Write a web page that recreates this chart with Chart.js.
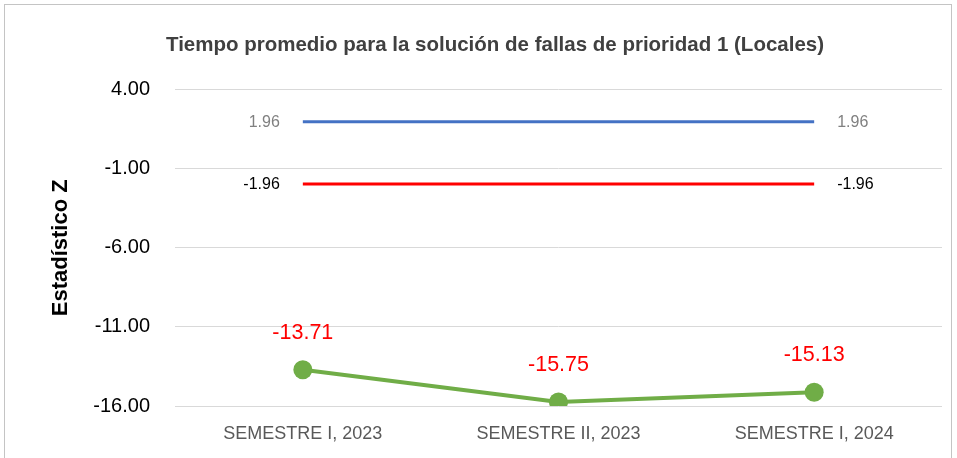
<!DOCTYPE html>
<html><head><meta charset="utf-8">
<script src="https://cdn.jsdelivr.net/npm/chart.js@4.4.1/dist/chart.umd.min.js"></script>
<style>
html,body{margin:0;padding:0;background:#fff;overflow:hidden;}
#wrap{position:relative;width:957px;height:458px;}
#frame{position:absolute;left:4px;top:4px;width:948px;height:470px;border:1.5px solid #c4c4c4;box-sizing:border-box;}
canvas{position:absolute;left:0;top:0;}
</style></head>
<body><div id="wrap"><div id="frame"></div><canvas id="c" width="957" height="458"></canvas></div>
<script>
const categories = ["SEMESTRE I, 2023", "SEMESTRE II, 2023", "SEMESTRE I, 2024"];
const upperLimit = [1.96, 1.96, 1.96];
const lowerLimit = [-1.96, -1.96, -1.96];
const zValues = [-13.71, -15.75, -15.13];
const yTicks = [4, -1, -6, -11, -16];

const FONT = "'Liberation Sans', Arial, sans-serif";

const labelPlugin = {
  id: 'labels',
  afterDatasetsDraw(chart) {
    const ctx = chart.ctx;
    ctx.save();
    [[0, '#808080'], [1, '#000000']].forEach(([di, col]) => {
      const meta = chart.getDatasetMeta(di);
      const data = chart.data.datasets[di].data;
      const pts = meta.data;
      const first = pts[0], last = pts[pts.length - 1];
      ctx.font = '16px ' + FONT;
      ctx.fillStyle = col;
      ctx.textBaseline = 'middle';
      ctx.textAlign = 'right';
      ctx.fillText(data[0].toFixed(2), first.x - 23, first.y + 1);
      ctx.textAlign = 'left';
      ctx.fillText(data[data.length - 1].toFixed(2), last.x + 23, last.y + 1);
    });
    const meta = chart.getDatasetMeta(2);
    const data = chart.data.datasets[2].data;
    ctx.font = '21.5px ' + FONT;
    ctx.fillStyle = '#FF0000';
    ctx.textAlign = 'center';
    ctx.textBaseline = 'middle';
    meta.data.forEach((p, i) => {
      ctx.fillText(data[i].toFixed(2), p.x, p.y - 37);
    });
    ctx.restore();
  }
};

new Chart(document.getElementById('c'), {
  type: 'line',
  data: {
    labels: categories,
    datasets: [
      { data: upperLimit, borderColor: '#4472C4', borderWidth: 3, pointRadius: 0, fill: false },
      { data: lowerLimit, borderColor: '#FF0000', borderWidth: 3, pointRadius: 0, fill: false },
      { data: zValues, borderColor: '#70AD47', backgroundColor: '#70AD47', borderWidth: 4,
        pointRadius: 9.5, pointBackgroundColor: '#70AD47', pointBorderColor: '#70AD47', pointBorderWidth: 0, fill: false }
    ]
  },
  options: {
    responsive: false,
    animation: false,
    devicePixelRatio: 1,
    layout: { padding: { left: 48, right: 15, top: 0, bottom: 0 } },
    plugins: {
      legend: { display: false },
      tooltip: { enabled: false },
      title: {
        display: true,
        text: 'Tiempo promedio para la solución de fallas de prioridad 1 (Locales)',
        color: '#404040',
        font: { family: FONT, size: 20.5, weight: 'bold' },
        padding: { top: 33, bottom: 32 }
      }
    },
    scales: {
      x: {
        offset: true,
        grid: { display: false, drawTicks: false },
        border: { display: false },
        ticks: { color: '#595959', font: { family: FONT, size: 18 }, padding: 17, maxRotation: 0 },
        afterFit(s) { s.height = 52; }
      },
      y: {
        min: -16, max: 4,
        afterBuildTicks(s) { s.ticks = yTicks.map(v => ({ value: v })); },
        grid: { color: '#d9d9d9', lineWidth: 1, drawTicks: false },
        border: { display: false },
        ticks: { color: '#000', font: { family: FONT, size: 20 }, padding: 25, callback: v => Number(v).toFixed(2) },
        title: { display: true, text: 'Estadístico Z', color: '#000', font: { family: FONT, size: 22, weight: 'bold' }, padding: 0 },
        afterFit(s) { s.width = 127; }
      }
    }
  },
  plugins: [labelPlugin]
});
</script>
</body></html>
